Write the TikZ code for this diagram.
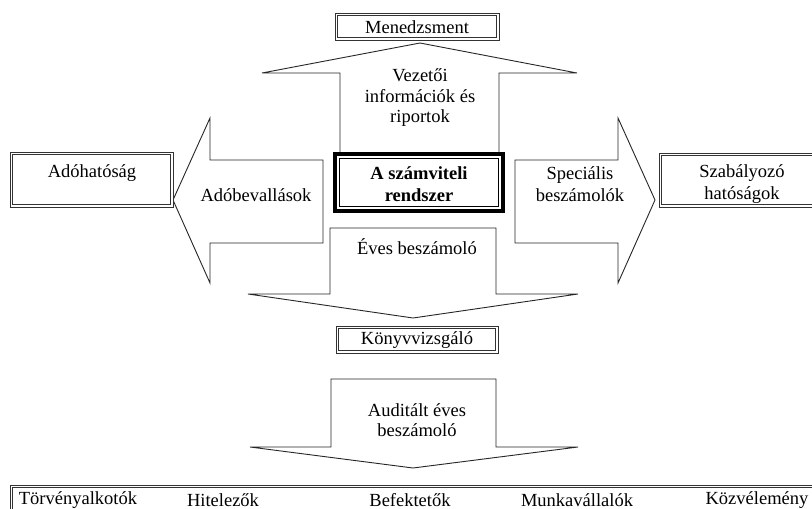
\documentclass[tikz,border=0pt]{standalone}
\usepackage{fontspec}
\setmainfont{Liberation Serif}
\begin{document}
\begin{tikzpicture}[x=1pt,y=-1pt,
  arr/.style={draw=black!85, line width=0.9pt, fill=white, line join=miter},
  bline/.style={draw=black!80, line width=0.8pt},
  lbl/.style={font=\fontsize{18.5}{22}\selectfont, align=center, inner sep=0pt, text=black}]
\useasboundingbox (0,0) rectangle (812,509);
% up arrow
\draw[arr] (340,152) -- (340,73) -- (262,73) -- (420,43) -- (577,73) -- (499,73) -- (499,152);
% left arrow
\draw[arr] (323,160) -- (210,160) -- (210,118) -- (173,200) -- (210,283) -- (210,243) -- (323,243) -- cycle;
% right arrow
\draw[arr] (515,160) -- (618,160) -- (618,118) -- (655,200) -- (618,283) -- (618,243) -- (515,243) -- cycle;
% down arrow 1
\draw[arr] (330,228) -- (496,228) -- (496,294) -- (578,294) -- (413,318) -- (248,294) -- (330,294) -- cycle;
% down arrow 2
\draw[arr] (331,379) -- (496,379) -- (496,447) -- (578,447) -- (413,468) -- (250,447) -- (331,447) -- cycle;
% boxes (double borders)
\draw[bline, fill=white] (335,13) rectangle (499,40);
\draw[bline] (337.5,15.5) rectangle (496.5,37.5);
\node[lbl] (men) at (417,27) {Menedzsment};
\draw[bline, fill=white] (10,152) rectangle (173,207);
\draw[bline] (12.5,154.5) rectangle (170.5,204.5);
\node[lbl] (ado) at (92,173) {Adóhatóság};
\draw[bline, fill=white] (659,153) rectangle (820,207);
\draw[bline] (661.5,155.5) rectangle (820,204.5);
\node[lbl] (szab) at (742,184) {Szabályozó\\hatóságok};
\draw[bline, fill=white] (336,326) rectangle (498,353);
\draw[bline] (338.5,328.5) rectangle (495.5,350.5);
\node[lbl] (konyv) at (417,340) {Könyvvizsgáló};
% central box
\draw[fill=white, line width=4pt] (335,154) rectangle (503,211);
\draw[line width=0.7pt] (339.5,158.5) rectangle (498.5,206.5);
\node[lbl, font=\fontsize{18.5}{22}\bfseries] (rsz) at (419,184) {A számviteli\\rendszer};
% arrow labels
\node[lbl, font=\fontsize{18.5}{20.5}\selectfont] (vez) at (420,98) {Vezetői\\információk és\\riportok};
\node[lbl] (adob) at (256,195) {Adóbevallások};
\node[lbl] (spec) at (580,184) {Speciális\\beszámolók};
\node[lbl] (eves) at (417,247) {Éves beszámoló};
\node[lbl, font=\fontsize{18.5}{20.5}\selectfont] (aud) at (417,420) {Auditált éves\\beszámoló};
% bottom box
\draw[bline] (10,515) -- (10,485) -- (820,485);
\draw[bline] (12.5,515) -- (12.5,487.5) -- (820,487.5);
\node[lbl] (t1) at (78,500) {Törvényalkotók};
\node[lbl] (t2) at (223,500) {Hitelezők};
\node[lbl] (t3) at (410,500) {Befektetők};
\node[lbl] (t4) at (577,500) {Munkavállalók};
\node[lbl] (t5) at (757,500) {Közvélemény};
\end{tikzpicture}
\end{document}
